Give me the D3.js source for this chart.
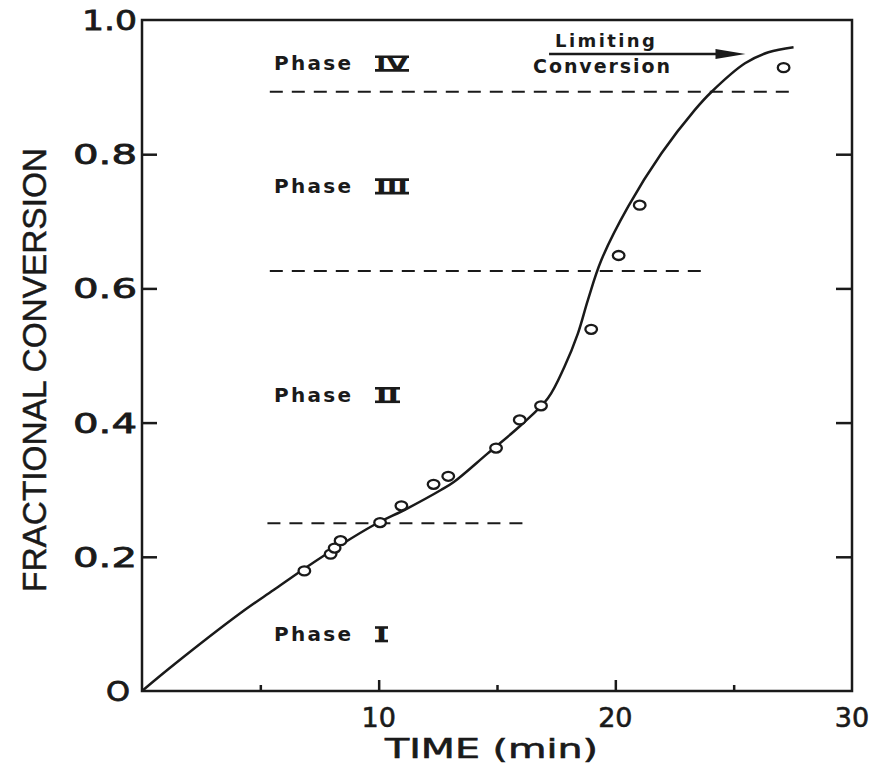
<!DOCTYPE html>
<html>
<head>
<meta charset="utf-8">
<script src="https://cdn.jsdelivr.net/npm/d3@7"></script>
<style>
  body { margin: 0; background: #fff; }
  svg { display: block; }
  text { fill: #1a1a1a; }
</style>
</head>
<body>
<svg id="chart" width="881" height="763"></svg>
<script>
// Observed points: time (min) and fractional conversion
var obsTime = [6.86, 7.97, 8.14, 8.39, 10.06, 10.96, 12.32, 12.94, 14.96, 15.96, 16.86, 18.98, 20.14, 21.03, 27.11];
var obsConv = [0.179, 0.204, 0.213, 0.224, 0.251, 0.276, 0.308, 0.320, 0.362, 0.404, 0.425, 0.539, 0.649, 0.724, 0.929];

// Smooth curve drawn through the data
var fitTime = [0, 1.33, 4.15, 5.56, 6.98, 8.39, 9.80, 11.22, 12.63, 13.19, 14.61, 16.02, 17.15, 17.85, 18.42, 18.84, 19.41, 20.54, 21.95, 23.36, 24.07, 25.48, 26.47, 27.53];
var fitConv = [0, 0.0387, 0.1158, 0.1505, 0.1852, 0.2176, 0.2474, 0.2723, 0.2996, 0.3119, 0.3542, 0.3964, 0.4362, 0.4833, 0.5331, 0.5827, 0.6423, 0.7218, 0.8013, 0.8660, 0.8931, 0.9355, 0.9519, 0.9593];

// Phase boundaries (dashed lines)
var boundaryConv = [0.250, 0.626, 0.893];
var boundaryFrom = [5.3, 5.4, 5.4];
var boundaryTo = [16.14, 23.73, 27.67];

// Phase labels
var phaseNumerals = ["I", "II", "III", "IV"];
var phaseLabelConv = [0.0745, 0.431, 0.742, 0.925];

// Axis ticks
var yTicks = [0, 0.2, 0.4, 0.6, 0.8, 1.0];
var xTicks = [5, 10, 15, 20, 25];
var xLabels = [10, 20, 30];

var svg = d3.select("#chart");
var ink = "#1a1a1a";

var x = d3.scaleLinear().domain([0, 30]).range([142, 852]);
var y = d3.scaleLinear().domain([0, 1]).range([691, 20]);

// Frame
svg.append("rect")
  .attr("x", x(0)).attr("y", y(1))
  .attr("width", x(30) - x(0)).attr("height", y(0) - y(1))
  .attr("fill", "none").attr("stroke", ink).attr("stroke-width", 2.5);

// Left axis: inward ticks, labels drawn separately
var yAxis = svg.append("g")
  .attr("transform", "translate(" + x(0) + ",0)")
  .call(d3.axisLeft(y).tickValues([0.2, 0.4, 0.6, 0.8]).tickSize(-15).tickFormat(""));
yAxis.select(".domain").remove();
yAxis.selectAll("line").attr("stroke", ink).attr("stroke-width", 2.5);

var yAxisR = svg.append("g")
  .attr("transform", "translate(" + x(30) + ",0)")
  .call(d3.axisRight(y).tickValues([0.2, 0.4, 0.6, 0.8]).tickSize(-16).tickFormat(""));
yAxisR.select(".domain").remove();
yAxisR.selectAll("line").attr("stroke", ink).attr("stroke-width", 2.5);

svg.selectAll(".ylab")
  .data(yTicks)
  .enter().append("text")
  .attr("class", "ylab")
  .attr("font-family", "DejaVu Sans")
  .attr("font-size", 27)
  .attr("stroke", ink).attr("stroke-width", 0.8)
  .attr("lengthAdjust", "spacingAndGlyphs")
  .attr("textLength", function(d) { return d === 0 ? 24 : (d === 1 ? 55 : 64); })
  .attr("x", function(d) { return d === 0 ? 106 : (d === 1 ? 82 : 73); })
  .attr("y", function(d) { return y(d) + 10; })
  .text(function(d) { return d === 0 ? "O" : d3.format(".1f")(d); });

// Bottom axis: inward ticks, longer at 10 and 20
var xAxis = svg.append("g")
  .attr("transform", "translate(0," + y(0) + ")")
  .call(d3.axisBottom(x).tickValues(xTicks).tickSize(0).tickFormat(""));
xAxis.select(".domain").remove();
xAxis.selectAll("line")
  .attr("y2", function(d) { return d % 10 === 0 ? -11 : -6; })
  .attr("stroke", ink).attr("stroke-width", 2.5);

svg.selectAll(".xlab")
  .data(xLabels)
  .enter().append("text")
  .attr("class", "xlab")
  .attr("font-family", "DejaVu Sans")
  .attr("font-size", 27)
  .attr("stroke", ink).attr("stroke-width", 0.6)
  .attr("text-anchor", "middle")
  .attr("x", function(d) { return x(d); })
  .attr("y", 727)
  .text(function(d) { return d; });

// Axis titles
svg.append("text")
  .attr("font-family", "DejaVu Sans")
  .attr("font-size", 27)
  .attr("stroke", ink).attr("stroke-width", 0.6)
  .attr("x", 385).attr("y", 758)
  .attr("textLength", 213)
  .attr("lengthAdjust", "spacingAndGlyphs")
  .text("TIME (min)");

svg.append("text")
  .attr("font-family", "Liberation Sans, Arial, sans-serif")
  .attr("font-size", 34)
  .attr("stroke", ink).attr("stroke-width", 0.5)
  .attr("transform", "translate(46,592) rotate(-90)")
  .attr("textLength", 444)
  .attr("lengthAdjust", "spacingAndGlyphs")
  .text("FRACTIONAL CONVERSION");

// Phase boundaries
svg.selectAll(".bound")
  .data(boundaryConv)
  .enter().append("line")
  .attr("class", "bound")
  .attr("x1", function(d, i) { return x(boundaryFrom[i]); })
  .attr("x2", function(d, i) { return x(boundaryTo[i]); })
  .attr("y1", function(d) { return y(d); })
  .attr("y2", function(d) { return y(d); })
  .attr("stroke", ink).attr("stroke-width", 2)
  .attr("stroke-dasharray", "13,9");

// Phase labels with barred roman numerals
var numWidth = { "I": 11, "II": 23, "III": 32, "IV": 32 };
var phase = svg.selectAll(".phase")
  .data(phaseNumerals)
  .enter().append("g")
  .attr("class", "phase")
  .attr("transform", function(d, i) { return "translate(0," + y(phaseLabelConv[i]) + ")"; });

phase.append("text")
  .attr("font-family", "DejaVu Sans")
  .attr("font-weight", "bold")
  .attr("font-size", 20)
  .attr("x", 274)
  .attr("textLength", 77)
  .attr("lengthAdjust", "spacing")
  .text("Phase");

phase.append("text")
  .attr("font-family", "DejaVu Sans")
  .attr("font-weight", "bold")
  .attr("font-size", 18)
  .attr("x", 376)
  .attr("y", -0.5)
  .attr("textLength", function(d) { return numWidth[d]; })
  .attr("lengthAdjust", "spacingAndGlyphs")
  .text(function(d) { return d; });

phase.selectAll(".bar")
  .data(function(d) { return [[d, -13.5], [d, 0]]; })
  .enter().append("line")
  .attr("x1", 375)
  .attr("x2", function(d) { return 376 + numWidth[d[0]] + 1; })
  .attr("y1", function(d) { return d[1]; })
  .attr("y2", function(d) { return d[1]; })
  .attr("stroke", ink).attr("stroke-width", 2.6);

// Fitted curve
var line = d3.line()
  .x(function(d) { return x(d[0]); })
  .y(function(d) { return y(d[1]); })
  .curve(d3.curveCatmullRom.alpha(0.5));

svg.append("path")
  .datum(d3.zip(fitTime, fitConv))
  .attr("d", line)
  .attr("fill", "none")
  .attr("stroke", ink)
  .attr("stroke-width", 2.5);

// Data points
svg.selectAll(".pt")
  .data(d3.zip(obsTime, obsConv))
  .enter().append("ellipse")
  .attr("class", "pt")
  .attr("cx", function(d) { return x(d[0]); })
  .attr("cy", function(d) { return y(d[1]); })
  .attr("rx", 5.8).attr("ry", 4.5)
  .attr("fill", "#fff")
  .attr("stroke", ink).attr("stroke-width", 2.3);

// Limiting conversion arrow
var arrowFrom = 17.2, arrowTo = 25.5, arrowConv = 0.9493;
var ay = y(arrowConv), tip = x(arrowTo);
svg.append("line")
  .attr("x1", x(arrowFrom)).attr("x2", tip - 20)
  .attr("y1", ay).attr("y2", ay)
  .attr("stroke", ink).attr("stroke-width", 2.5);
svg.append("path")
  .attr("d", "M" + tip + "," + ay + "L" + (tip - 30) + "," + (ay - 5) + "L" + (tip - 30) + "," + (ay + 5) + "Z")
  .attr("fill", ink);

svg.append("text")
  .attr("font-family", "DejaVu Sans")
  .attr("font-weight", "bold")
  .attr("font-size", 18)
  .attr("x", 555).attr("y", 47)
  .attr("textLength", 100)
  .attr("lengthAdjust", "spacing")
  .text("Limiting");

svg.append("text")
  .attr("font-family", "DejaVu Sans")
  .attr("font-weight", "bold")
  .attr("font-size", 19)
  .attr("x", 533).attr("y", 73)
  .attr("textLength", 137)
  .attr("lengthAdjust", "spacing")
  .text("Conversion");
</script>
</body>
</html>
